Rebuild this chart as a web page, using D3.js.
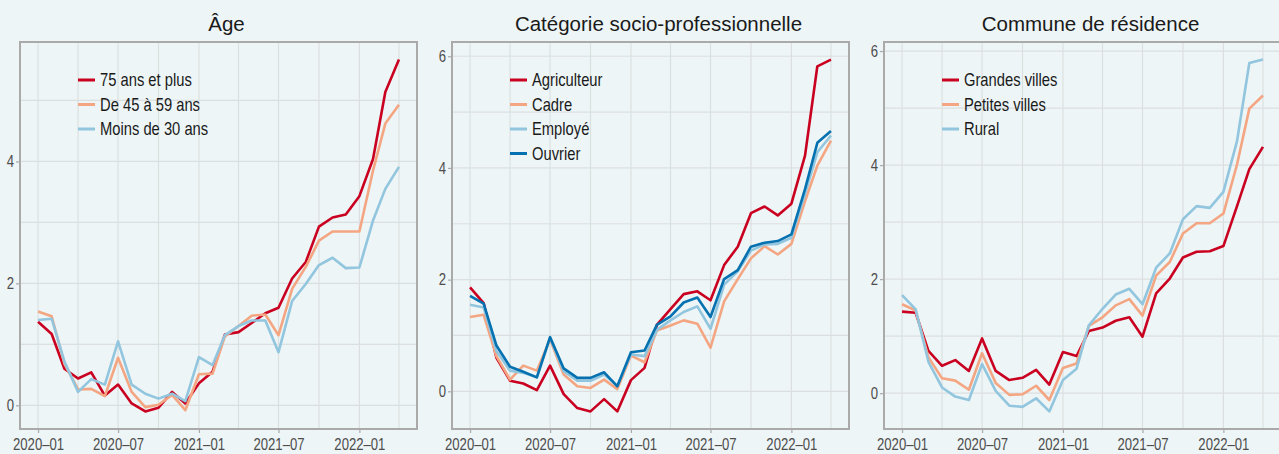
<!DOCTYPE html>
<html><head><meta charset="utf-8">
<script src="https://cdn.jsdelivr.net/npm/d3@7"></script>
<style>
html,body{margin:0;padding:0;background:#edf5f6;}
svg{display:block;}
text{font-family:"Liberation Sans",Arial,sans-serif;}
</style></head>
<body>
<svg id="chart" width="1279" height="454"></svg>
<script>
const months = ["2020-01","2020-02","2020-03","2020-04","2020-05","2020-06","2020-07","2020-08","2020-09","2020-10","2020-11","2020-12",
"2021-01","2021-02","2021-03","2021-04","2021-05","2021-06","2021-07","2021-08","2021-09","2021-10","2021-11","2021-12",
"2022-01","2022-02","2022-03","2022-04"];
const tickMonths = ["2020-01","2020-07","2021-01","2021-07","2022-01"];

const panelTitles = ["Âge","Catégorie socio-professionnelle","Commune de résidence"];

// Âge
const age75 = [1.37,1.17,0.60,0.44,0.54,0.16,0.34,0.03,-0.10,-0.04,0.22,0.03,0.36,0.55,1.16,1.20,1.35,1.51,1.60,2.08,2.35,2.93,3.08,3.13,3.43,4.04,5.14,5.67];
const age4559 = [1.54,1.46,0.68,0.26,0.27,0.15,0.78,0.22,-0.03,0.01,0.17,-0.08,0.51,0.52,1.13,1.30,1.47,1.49,1.15,1.91,2.27,2.70,2.85,2.85,2.85,3.85,4.62,4.93];
const age30 = [1.40,1.42,0.72,0.22,0.43,0.34,1.05,0.34,0.19,0.11,0.19,0.07,0.79,0.66,1.15,1.30,1.39,1.39,0.87,1.71,1.99,2.30,2.42,2.25,2.26,3.03,3.55,3.91];
const ageNames = ["75 ans et plus","De 45 à 59 ans","Moins de 30 ans"];

// Catégorie socio-professionnelle
const agriculteur = [1.86,1.58,0.60,0.19,0.14,0.02,0.46,-0.05,-0.30,-0.36,-0.14,-0.36,0.20,0.42,1.19,1.47,1.74,1.79,1.63,2.26,2.59,3.19,3.31,3.15,3.36,4.22,5.82,5.94];
const cadre = [1.33,1.37,0.63,0.21,0.46,0.37,0.93,0.30,0.09,0.06,0.21,0.04,0.64,0.52,1.09,1.18,1.27,1.21,0.78,1.61,2.01,2.38,2.60,2.45,2.64,3.40,4.04,4.49];
const employe = [1.55,1.50,0.72,0.37,0.33,0.25,0.96,0.36,0.19,0.19,0.30,0.10,0.66,0.63,1.10,1.27,1.42,1.52,1.12,1.91,2.15,2.52,2.63,2.64,2.75,3.53,4.28,4.58];
const ouvrier = [1.71,1.57,0.82,0.44,0.35,0.25,0.97,0.41,0.24,0.24,0.34,0.09,0.70,0.73,1.19,1.34,1.59,1.68,1.33,2.01,2.17,2.59,2.66,2.69,2.81,3.62,4.45,4.66];
const cspNames = ["Agriculteur","Cadre","Employé","Ouvrier"];

// Commune de résidence
const grandesVilles = [1.43,1.41,0.74,0.48,0.58,0.39,0.96,0.39,0.23,0.27,0.41,0.15,0.72,0.65,1.09,1.15,1.27,1.33,0.99,1.75,2.01,2.38,2.48,2.49,2.58,3.28,3.93,4.32];
const petitesVilles = [1.56,1.45,0.63,0.26,0.22,0.06,0.70,0.18,-0.03,-0.02,0.13,-0.12,0.44,0.52,1.18,1.33,1.54,1.65,1.36,2.06,2.30,2.80,2.98,2.98,3.15,4.01,4.99,5.22];
const rural = [1.72,1.47,0.55,0.10,-0.06,-0.12,0.51,0.04,-0.22,-0.24,-0.09,-0.32,0.23,0.43,1.19,1.48,1.73,1.83,1.56,2.20,2.45,3.05,3.28,3.25,3.53,4.42,5.79,5.85];
const communeNames = ["Grandes villes","Petites villes","Rural"];

const yTickValues = [[0,2,4],[0,2,4,6],[0,2,4,6]];

const RED="#ca0020", SALMON="#f4a582", LIGHTBLUE="#92c5de", DARKBLUE="#0571b0";

const panels = [
  {title:panelTitles[0], series:[age75,age4559,age30], names:ageNames, colors:[RED,SALMON,LIGHTBLUE], yticks:yTickValues[0]},
  {title:panelTitles[1], series:[agriculteur,cadre,employe,ouvrier], names:cspNames, colors:[RED,SALMON,LIGHTBLUE,DARKBLUE], yticks:yTickValues[1]},
  {title:panelTitles[2], series:[grandesVilles,petitesVilles,rural], names:communeNames, colors:[RED,SALMON,LIGHTBLUE], yticks:yTickValues[2]}
];

const parse = d3.timeParse("%Y-%m");
const dates = months.map(parse);
const fmt = d3.timeFormat("%Y–%m");
const NARROW = 0.82;

const svg = d3.select("#chart");
const lefts = [20, 452, 884];
const pw = 397, plotTop = 42, plotBottom = 429;

const t0 = dates[0].getTime(), t1 = dates[dates.length-1].getTime();
const tpad = (t1 - t0) * 0.05;
const allMinorX = dates.filter((d,i)=> i % 3 === 0);

panels.forEach((p, pi) => {
  const left = lefts[pi], right = left + pw;
  const g = svg.append("g");
  const x = d3.scaleTime().domain([new Date(t0 - tpad), new Date(t1 + tpad)]).range([left, right]);
  const allVals = p.series.flat();
  const [mn, mx] = d3.extent(allVals);
  const ypad = (mx - mn) * 0.05;
  const y = d3.scaleLinear().domain([mn - ypad, mx + ypad]).range([plotBottom, plotTop]);

  const clipId = "clip" + pi;
  svg.append("clipPath").attr("id", clipId).append("rect")
    .attr("x", left).attr("y", plotTop).attr("width", pw).attr("height", plotBottom - plotTop);

  // grid
  const grid = g.append("g");
  grid.selectAll("line.vx").data(allMinorX).join("line")
    .attr("x1", d=>x(d)).attr("x2", d=>x(d)).attr("y1", plotTop).attr("y2", plotBottom)
    .attr("stroke", "#dcdfe0").attr("stroke-width", 1.2);
  const yMinor = d3.range(Math.ceil(y.domain()[0]), Math.floor(y.domain()[1]) + 1);
  grid.selectAll("line.hy").data(yMinor).join("line")
    .attr("x1", left).attr("x2", right).attr("y1", d=>y(d)).attr("y2", d=>y(d))
    .attr("stroke", "#dcdfe0").attr("stroke-width", 1.2);

  // axes
  const xAxis = d3.axisBottom(x).tickValues(tickMonths.map(parse)).tickFormat(fmt).tickSize(4).tickPadding(6);
  const xg = g.append("g").attr("transform", `translate(0,${plotBottom})`).call(xAxis);
  xg.select(".domain").remove();
  xg.selectAll(".tick line").attr("stroke", "#aaaaaa").attr("stroke-width", 1.2);
  xg.selectAll(".tick text").attr("fill", "#4d4d4d").style("font-size", "16px")
    .style("font-family", '"Liberation Sans",Arial,sans-serif')
    .attr("transform", `scale(${NARROW},1)`);

  const yAxis = d3.axisLeft(y).tickValues(p.yticks).tickFormat(d3.format("d")).tickSize(4).tickPadding(2);
  const yg = g.append("g").attr("transform", `translate(${left},0)`).call(yAxis);
  yg.select(".domain").remove();
  yg.selectAll(".tick line").attr("stroke", "#aaaaaa").attr("stroke-width", 1.2);
  yg.selectAll(".tick text").attr("fill", "#4d4d4d").style("font-size", "16px")
    .style("font-family", '"Liberation Sans",Arial,sans-serif')
    .attr("x", -6 / NARROW).attr("transform", `scale(${NARROW},1)`);

  // lines
  const lg = g.append("g").attr("clip-path", `url(#${clipId})`);
  p.series.forEach((s, si) => {
    const line = d3.line().x((d,i)=>x(dates[i])).y(d=>y(d));
    lg.append("path").datum(s).attr("d", line)
      .attr("fill", "none").attr("stroke", p.colors[si]).attr("stroke-width", 2.6)
      .attr("stroke-linejoin", "round");
  });

  // frame
  g.append("rect").attr("x", left).attr("y", plotTop).attr("width", pw).attr("height", plotBottom - plotTop)
    .attr("fill", "none").attr("stroke", "#aaaaaa").attr("stroke-width", 2);

  // legend
  const leg = g.append("g").attr("transform", `translate(${left + 58},${plotTop + 38})`);
  p.names.forEach((n, ni) => {
    const row = leg.append("g").attr("transform", `translate(0,${ni * 24.5})`);
    row.append("line").attr("x1", 0).attr("x2", 17).attr("y1", 0).attr("y2", 0)
      .attr("stroke", p.colors[ni]).attr("stroke-width", 3);
    row.append("text").attr("transform", `translate(22,0) scale(${NARROW},1)`).attr("dy", "0.36em")
      .attr("fill", "#1a1a1a").style("font-size", "18px").text(n);
  });

  // title
  g.append("text").attr("x", left + pw / 2 + 8).attr("y", 31)
    .attr("text-anchor", "middle").attr("fill", "#1a1a1a").style("font-size", "20.5px").text(p.title);
});
</script>
</body></html>
